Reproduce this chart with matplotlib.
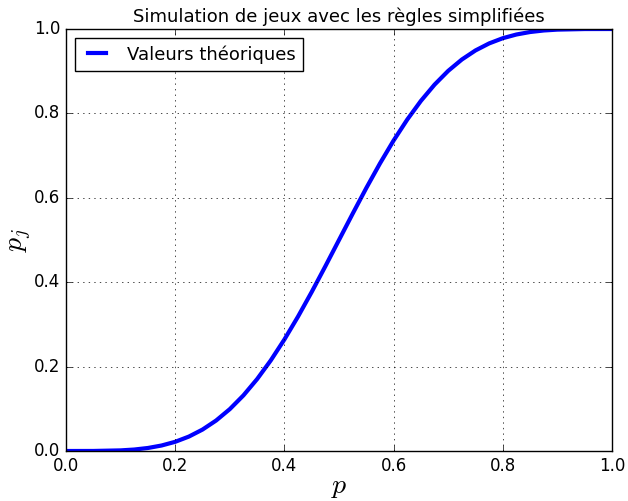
import matplotlib
matplotlib.use("Agg")
import matplotlib.pyplot as plt

plt.style.use('classic')

p_values = [0.0, 0.05, 0.1, 0.125, 0.15, 0.175, 0.2, 0.225, 0.25, 0.275, 0.3, 0.325,
            0.35, 0.375, 0.4, 0.425, 0.45, 0.475, 0.5, 0.525, 0.55, 0.575, 0.6,
            0.625, 0.65, 0.675, 0.7, 0.725, 0.75, 0.775, 0.8, 0.825, 0.85, 0.875,
            0.9, 0.95, 1.0]
pj_values = [0.0, 0.0001, 0.00145, 0.00349, 0.00714, 0.01301, 0.02178, 0.03415,
             0.05078, 0.07230, 0.09921, 0.13185, 0.17036, 0.21462, 0.26427,
             0.31865, 0.37685, 0.43774, 0.5, 0.56226, 0.62315, 0.68135, 0.73573,
             0.78538, 0.82964, 0.86815, 0.90079, 0.92770, 0.94922, 0.96585,
             0.97822, 0.98699, 0.99286, 0.99651, 0.99855, 0.99991, 1.0]

title = "Simulation de jeux avec les règles simplifiées"
legend_label = "Valeurs théoriques"

fig = plt.figure(figsize=(6.28, 5.01), dpi=100, facecolor='white')
ax = fig.add_axes([0.1051, 0.0998, 0.8694, 0.8423])
ax.plot(p_values, pj_values, color='blue', linewidth=3, label=legend_label)
ax.set_xlim(0, 1)
ax.set_ylim(0, 1)
ax.grid(True)
ax.set_title(title, fontsize=13)
ax.set_xlabel(r'$p$', fontsize=20, labelpad=-2)
ax.set_ylabel(r'$p_j$', fontsize=20, labelpad=0)
ax.tick_params(labelsize=12)
ax.legend(loc='upper left', fontsize=13, handlelength=1.6, handletextpad=0.9,
          borderaxespad=0.5)
fig.savefig('out.png', dpi=100, facecolor='white')
